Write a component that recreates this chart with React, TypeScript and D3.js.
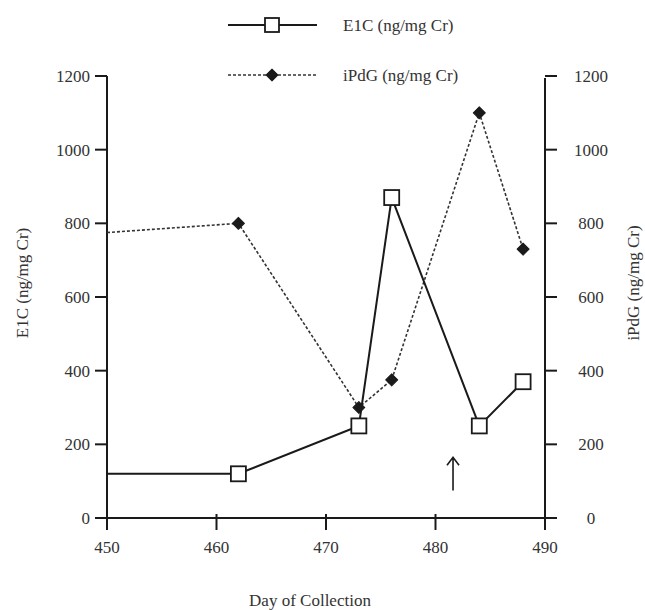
import { useEffect, useRef } from 'react';
import * as d3 from 'd3';

// Days sampled (first point is where the plotted window starts)
const DAYS = [450, 462, 473, 476, 484, 488];
const E1C_VALUES = [120, 120, 250, 870, 250, 370];
const IPDG_VALUES = [775, 800, 300, 375, 1100, 730];

const X_TICKS = [450, 460, 470, 480, 490];
const Y_TICKS = [0, 200, 400, 600, 800, 1000, 1200];

// arrow marking the event day
const ARROW_DAY = 481.6;
const ARROW_RANGE = [75, 165];

const WIDTH = 645;
const HEIGHT = 610;
const FONT = '"Liberation Serif", "DejaVu Serif", serif';
const INK = '#1a1a1a';
const TEXT = '#333';

export default function App() {
    const svgRef = useRef<SVGSVGElement>(null);

    useEffect(() => {
        if (!svgRef.current) return;
        const root = d3.select(svgRef.current);
        root.selectAll('*').remove();

        const x = d3.scaleLinear().domain([450, 490]).range([107, 545]);
        const y = d3.scaleLinear().domain([0, 1200]).range([518, 76]);
        const x0 = x.range()[0];
        const x1 = x.range()[1];
        const yBottom = y(0);
        const yTop = y(1200);

        const svg = root.append('g');

        // axes
        const axes = svg.append('g').attr('stroke', INK).attr('stroke-width', 2).attr('fill', 'none');
        axes.append('line').attr('x1', x0).attr('x2', x0).attr('y1', yTop).attr('y2', yBottom + 12);
        axes.append('line').attr('x1', x1).attr('x2', x1).attr('y1', yTop + 2).attr('y2', yBottom + 12);
        axes.append('line').attr('x1', x0 - 12).attr('x2', x1 + 12).attr('y1', yBottom).attr('y2', yBottom);

        Y_TICKS.forEach(t => {
            axes.append('line').attr('x1', x0 - 12).attr('x2', x0).attr('y1', y(t)).attr('y2', y(t));
            axes.append('line').attr('x1', x1).attr('x2', x1 + 12).attr('y1', y(t)).attr('y2', y(t));
        });
        X_TICKS.slice(1, -1).forEach(t => {
            axes.append('line').attr('x1', x(t)).attr('x2', x(t)).attr('y1', yBottom - 4).attr('y2', yBottom + 12);
        });

        const labels = svg.append('g').attr('font-family', FONT).attr('font-size', 17).attr('fill', TEXT);
        Y_TICKS.forEach(t => {
            labels.append('text').attr('x', x0 - 17).attr('y', y(t)).attr('dy', '0.35em')
                .attr('text-anchor', 'end').text(t);
            labels.append('text').attr('x', x1 + 46).attr('y', y(t)).attr('dy', '0.35em')
                .attr('text-anchor', 'middle').text(t);
        });
        X_TICKS.forEach(t => {
            labels.append('text').attr('x', x(t)).attr('y', yBottom + 35)
                .attr('text-anchor', 'middle').text(t);
        });

        labels.append('text').attr('x', 310).attr('y', 606).attr('text-anchor', 'middle').text('Day of Collection');
        labels.append('text').attr('transform', `translate(28, 283) rotate(-90)`)
            .attr('text-anchor', 'middle').text('E1C (ng/mg Cr)');
        labels.append('text').attr('transform', `translate(639, 283) rotate(-90)`)
            .attr('text-anchor', 'middle').text('iPdG (ng/mg Cr)');

        const e1c = DAYS.map((d, i) => ({ day: d, value: E1C_VALUES[i] }));
        const ipdg = DAYS.map((d, i) => ({ day: d, value: IPDG_VALUES[i] }));

        const line = d3.line<{ day: number, value: number }>()
            .x(d => x(d.day))
            .y(d => y(d.value));

        svg.append('path').datum(ipdg)
            .attr('fill', 'none').attr('stroke', '#333').attr('stroke-width', 1.6)
            .attr('stroke-dasharray', '3,2').attr('d', line);

        svg.append('path').datum(e1c)
            .attr('fill', 'none').attr('stroke', INK).attr('stroke-width', 2).attr('d', line);

        // filled diamond = square turned 45 degrees
        const diamond = d3.symbol().type(d3.symbolSquare).size(72);

        // markers only for sampled points inside the window
        svg.selectAll('.dia').data(ipdg.filter(d => d.day > 450)).enter().append('path')
            .attr('transform', d => `translate(${x(d.day)}, ${y(d.value)}) rotate(45)`)
            .attr('d', diamond).attr('fill', INK).attr('stroke', INK).attr('stroke-width', 1)
            .attr('stroke-linejoin', 'round');

        svg.selectAll('.sq').data(e1c.filter(d => d.day > 450)).enter().append('rect')
            .attr('x', d => x(d.day) - 7.5).attr('y', d => y(d.value) - 7.5)
            .attr('width', 15).attr('height', 15)
            .attr('fill', '#fff').attr('stroke', INK).attr('stroke-width', 1.8);

        // arrow
        const ax = x(ARROW_DAY);
        const aTop = y(ARROW_RANGE[1]);
        svg.append('path')
            .attr('d', `M${ax},${y(ARROW_RANGE[0])}V${aTop}M${ax - 6},${aTop + 8}L${ax},${aTop}L${ax + 6},${aTop + 8}`)
            .attr('fill', 'none').attr('stroke', INK).attr('stroke-width', 1.6);

        // legend
        const legend = svg.append('g');
        const lx0 = 228, lx1 = 317, lmid = 272;
        legend.append('line').attr('x1', lx0).attr('x2', lx1).attr('y1', 25).attr('y2', 25)
            .attr('stroke', INK).attr('stroke-width', 2);
        legend.append('rect').attr('x', lmid - 7).attr('y', 18).attr('width', 14).attr('height', 14)
            .attr('fill', '#fff').attr('stroke', INK).attr('stroke-width', 1.8);
        legend.append('line').attr('x1', lx0).attr('x2', lx1).attr('y1', 75).attr('y2', 75)
            .attr('stroke', '#333').attr('stroke-width', 1.6).attr('stroke-dasharray', '3,2');
        legend.append('path').attr('transform', `translate(${lmid}, 75) rotate(45)`).attr('d', diamond)
            .attr('fill', INK).attr('stroke', INK).attr('stroke-width', 1).attr('stroke-linejoin', 'round');

        legend.append('text').attr('x', 343).attr('y', 25).attr('dy', '0.35em')
            .attr('font-family', FONT).attr('font-size', 17).attr('fill', TEXT).text('E1C (ng/mg Cr)');
        legend.append('text').attr('x', 343).attr('y', 75).attr('dy', '0.35em')
            .attr('font-family', FONT).attr('font-size', 17).attr('fill', TEXT).text('iPdG (ng/mg Cr)');
    }, []);

    return (
        <svg ref={svgRef} width={WIDTH} height={HEIGHT}
            style={{ position: 'absolute', left: 0, top: 0, background: '#fff' }} />
    );
}
